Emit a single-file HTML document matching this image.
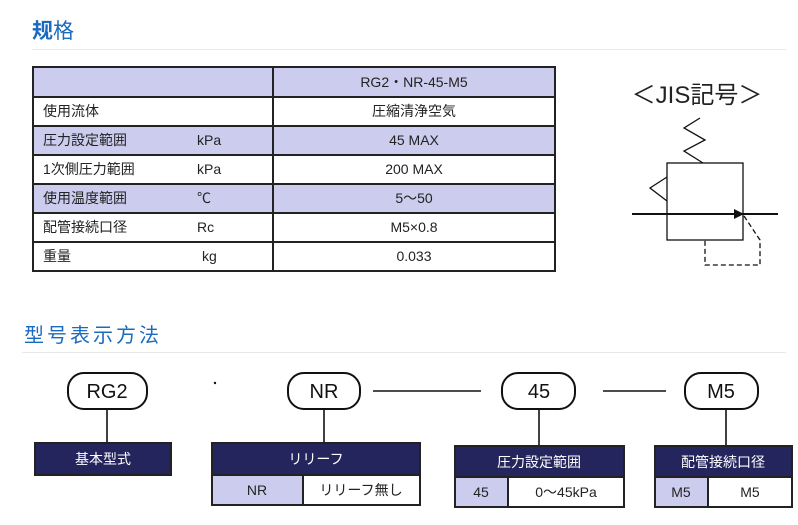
<!DOCTYPE html>
<html><head><meta charset="utf-8"><style>
body{margin:0;width:798px;height:525px;background:#fff;overflow:hidden;font-family:"Liberation Sans","Noto Sans CJK JP",sans-serif}
svg{display:block}
</style></head><body>
<svg width="798" height="525" xmlns="http://www.w3.org/2000/svg" font-family="Liberation Sans, Noto Sans CJK SC, sans-serif">
<text x="32" y="38" font-size="21" fill="#1a6bbf" font-weight="bold" font-family="Liberation Sans, Noto Sans CJK SC, sans-serif">规<tspan font-weight="normal">格</tspan></text>
<line x1="32" y1="49.5" x2="786" y2="49.5" stroke="#e8e8e8" stroke-width="1"/>
<g stroke="#222" stroke-width="2">
<rect x="33" y="67" width="522" height="30" fill="#ccccee"/>
<rect x="33" y="126" width="522" height="29" fill="#ccccee"/>
<rect x="33" y="184" width="522" height="29" fill="#ccccee"/>
<rect x="33" y="67" width="522" height="204" fill="none"/>
<line x1="273" y1="67" x2="273" y2="271"/>
<line x1="33" y1="97" x2="555" y2="97"/><line x1="33" y1="126" x2="555" y2="126"/>
<line x1="33" y1="155" x2="555" y2="155"/><line x1="33" y1="184" x2="555" y2="184"/>
<line x1="33" y1="213" x2="555" y2="213"/><line x1="33" y1="242" x2="555" y2="242"/>
</g>
<g font-size="14" fill="#222" font-family="Liberation Sans, Noto Sans CJK JP, sans-serif">
<text x="414" y="87" text-anchor="middle">RG2・NR-45-M5</text>
<text x="43" y="116">使用流体</text><text x="414" y="116" text-anchor="middle">圧縮清浄空気</text>
<text x="43" y="145">圧力設定範囲</text><text x="197" y="145">kPa</text><text x="414" y="145" text-anchor="middle">45 MAX</text>
<text x="43" y="174">1次側圧力範囲</text><text x="197" y="174">kPa</text><text x="414" y="174" text-anchor="middle">200 MAX</text>
<text x="43" y="203">使用温度範囲</text><text x="197" y="203">℃</text><text x="414" y="203" text-anchor="middle">5～50</text>
<text x="43" y="232">配管接続口径</text><text x="197" y="232">Rc</text><text x="414" y="232" text-anchor="middle">M5×0.8</text>
<text x="43" y="261">重量</text><text x="202" y="261">kg</text><text x="414" y="261" text-anchor="middle">0.033</text>
</g>
<text x="697" y="103" font-size="24" fill="#222" text-anchor="middle" font-family="Liberation Sans, Noto Sans CJK JP, sans-serif">＜JIS記号＞</text>
<g stroke="#111" stroke-width="1.3" fill="none">
<rect x="667" y="163" width="76" height="77"/>
<polyline points="703,163 684,151 705,140 684,128 700,118"/>
<polyline points="667,177 650,188 667,201"/>
<line x1="632" y1="214" x2="778" y2="214" stroke-width="2"/>
<path d="M744,216 L760,240 L760,265 L705,265 L705,240" stroke-dasharray="5,3"/>
</g>
<polygon points="744,214 734,209 734,219" fill="#111"/>
<text x="24" y="342" font-size="20" fill="#1a6bbf" letter-spacing="3" font-family="Liberation Sans, Noto Sans CJK SC, sans-serif">型号表示方法</text>
<line x1="22" y1="352.5" x2="786" y2="352.5" stroke="#e8e8e8"/>
<g stroke="#111" stroke-width="2" fill="#fff">
<rect x="68" y="373" width="79" height="36" rx="16"/>
<rect x="288" y="373" width="72" height="36" rx="16"/>
<rect x="502" y="373" width="73" height="36" rx="16"/>
<rect x="685" y="373" width="73" height="36" rx="16"/>
</g>
<g stroke="#111" stroke-width="1.6">
<line x1="373" y1="391" x2="481" y2="391"/>
<line x1="603" y1="391" x2="666" y2="391"/>
<line x1="107" y1="409" x2="107" y2="443"/>
<line x1="324" y1="409" x2="324" y2="443"/>
<line x1="539" y1="409" x2="539" y2="446"/>
<line x1="726" y1="409" x2="726" y2="446"/>
</g>
<circle cx="215" cy="383" r="1.2" fill="#111"/>
<g font-size="20" fill="#111" text-anchor="middle">
<text x="107" y="398">RG2</text><text x="324" y="398">NR</text>
<text x="539" y="398">45</text><text x="721" y="398">M5</text>
</g>
<g stroke="#222" stroke-width="2">
<rect x="35" y="443" width="136" height="32" fill="#25255e"/>
<rect x="212" y="443" width="208" height="32" fill="#25255e"/>
<rect x="212" y="475" width="91" height="30" fill="#ccccee"/>
<rect x="303" y="475" width="117" height="30" fill="#fff"/>
<rect x="455" y="446" width="169" height="31" fill="#25255e"/>
<rect x="455" y="477" width="53" height="30" fill="#ccccee"/>
<rect x="508" y="477" width="116" height="30" fill="#fff"/>
<rect x="655" y="446" width="137" height="31" fill="#25255e"/>
<rect x="655" y="477" width="53" height="30" fill="#ccccee"/>
<rect x="708" y="477" width="84" height="30" fill="#fff"/>
</g>
<g font-size="14" text-anchor="middle" font-family="Liberation Sans, Noto Sans CJK JP, sans-serif">
<text x="103" y="464" fill="#fff">基本型式</text>
<text x="316" y="464" fill="#fff">リリーフ</text>
<text x="539" y="467" fill="#fff">圧力設定範囲</text>
<text x="723" y="467" fill="#fff">配管接続口径</text>
<g fill="#222">
<text x="257" y="495">NR</text><text x="361" y="495">リリーフ無し</text>
<text x="481" y="497">45</text><text x="566" y="497">0～45kPa</text>
<text x="681" y="497">M5</text><text x="750" y="497">M5</text>
</g>
</g>
</svg>
</body></html>
